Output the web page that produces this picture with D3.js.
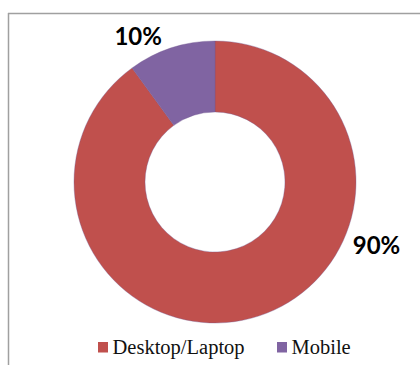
<!DOCTYPE html>
<html>
<head>
<meta charset="utf-8">
<script src="https://cdn.jsdelivr.net/npm/d3@7"></script>
<style>
  html, body { margin: 0; padding: 0; background: #fff; }
  svg { display: block; }
</style>
</head>
<body>
<svg id="chart" width="420" height="365"></svg>
<script>
// Device share data
const categories = ["Desktop/Laptop", "Mobile"];
const shares = [90, 10];
const shareLabels = ["90%", "10%"];
const colors = ["#C0504D", "#8064A2"];

const W = 420, H = 365;
const cx = 215, cy = 182;
const outerR = 141, innerR = 70;

const svg = d3.select("#chart");

// Chart frame (top and left edges visible)
svg.append("line").attr("x1", 8).attr("y1", 13.5).attr("x2", W).attr("y2", 13.5)
  .attr("stroke", "#a0a0a0").attr("stroke-width", 1.5);
svg.append("line").attr("x1", 8.5).attr("y1", 13).attr("x2", 8.5).attr("y2", H)
  .attr("stroke", "#a0a0a0").attr("stroke-width", 1.5);

const data = categories.map((c, i) => ({ name: c, value: shares[i], label: shareLabels[i], color: colors[i] }));

const pie = d3.pie().sort(null).value(d => d.value);
const arc = d3.arc().innerRadius(innerR).outerRadius(outerR);
const arcs = pie(data);

const g = svg.append("g").attr("transform", `translate(${cx},${cy})`);

g.selectAll("path.slice")
  .data(arcs)
  .join("path")
  .attr("class", "slice")
  .attr("d", arc)
  .attr("fill", d => d.data.color)
  .attr("stroke", "#6f578e")
  .attr("stroke-width", 0.6)
  .attr("stroke-opacity", 0.6);

// Data labels placed outside the ring; offset angle (radians) relative to slice mid-angle
const labelPlacement = {
  "Desktop/Laptop": { angleShift: -0.89, radius: 173 },
  "Mobile": { angleShift: -0.17, radius: 165 }
};

g.selectAll("text.pct")
  .data(arcs)
  .join("text")
  .attr("class", "pct")
  .each(function(d) {
    const p = labelPlacement[d.data.name];
    const a = (d.startAngle + d.endAngle) / 2 + p.angleShift;
    d3.select(this)
      .attr("x", Math.sin(a) * p.radius)
      .attr("y", -Math.cos(a) * p.radius);
  })
  .attr("text-anchor", "middle")
  .attr("dominant-baseline", "central")
  .attr("font-family", "Lato, 'Open Sans', sans-serif")
  .attr("font-weight", "bold")
  .attr("font-size", 24)
  .attr("fill", "#000")
  .text(d => d.data.label);

// Legend
const legendX = [98, 277];
const legend = svg.append("g");
const items = legend.selectAll("g.item")
  .data(data)
  .join("g")
  .attr("class", "item")
  .attr("transform", (d, i) => `translate(${legendX[i]},0)`);

items.append("rect")
  .attr("x", 0).attr("y", 342)
  .attr("width", 10).attr("height", 10.5)
  .attr("fill", d => d.color);

items.append("text")
  .attr("x", 14.5).attr("y", 354)
  .attr("font-family", "'Liberation Serif', 'Times New Roman', serif")
  .attr("font-size", 20.5)
  .attr("fill", "#111")
  .text(d => d.name);
</script>
</body>
</html>
